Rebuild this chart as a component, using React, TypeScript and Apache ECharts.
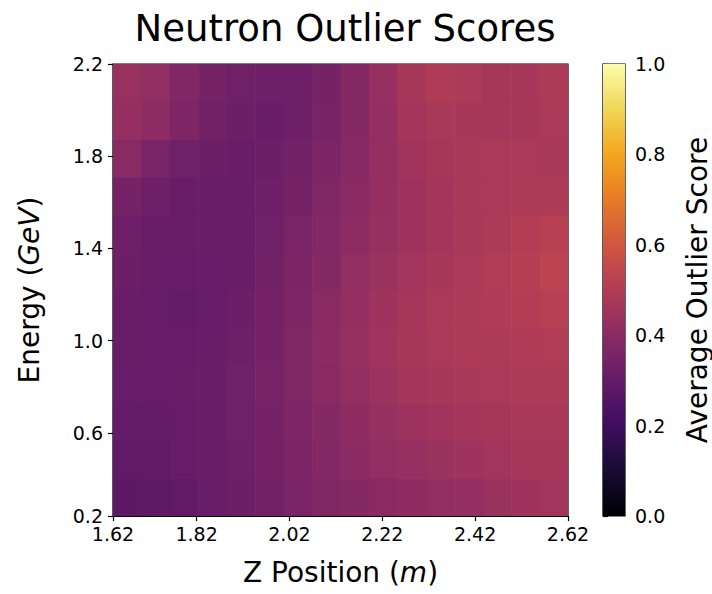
import React, { useEffect, useRef } from "react";
import * as echarts from "echarts";

// Axis ticks (grid index positions 0..49) and their labels
const xTickIdx = [0, 9, 19, 29, 39, 49];
const xTickLabels = ["1.62", "1.82", "2.02", "2.22", "2.42", "2.62"];
const yTickIdx = [0, 9, 19, 29, 39, 49];
const yTickLabels = ["0.2", "0.6", "1.0", "1.4", "1.8", "2.2"];
const cbarTicks = [0, 0.2, 0.4, 0.6, 0.8, 1.0];

// Average outlier score, rows from bottom (low energy) to top, columns left to right
const scoreRows: number[][] = [
  [0.28, 0.285, 0.295, 0.31, 0.32, 0.335, 0.355, 0.37, 0.385, 0.395, 0.41, 0.415, 0.425, 0.44, 0.45, 0.46],
  [0.29, 0.295, 0.305, 0.315, 0.325, 0.34, 0.36, 0.38, 0.40, 0.415, 0.43, 0.44, 0.45, 0.46, 0.47, 0.475],
  [0.30, 0.30, 0.305, 0.315, 0.33, 0.345, 0.365, 0.385, 0.41, 0.43, 0.445, 0.455, 0.465, 0.47, 0.48, 0.48],
  [0.305, 0.305, 0.31, 0.315, 0.33, 0.35, 0.37, 0.395, 0.42, 0.445, 0.465, 0.475, 0.48, 0.485, 0.49, 0.49],
  [0.31, 0.305, 0.305, 0.31, 0.325, 0.345, 0.37, 0.40, 0.43, 0.455, 0.475, 0.485, 0.49, 0.49, 0.495, 0.50],
  [0.315, 0.305, 0.30, 0.305, 0.32, 0.34, 0.365, 0.395, 0.425, 0.45, 0.47, 0.485, 0.49, 0.495, 0.505, 0.52],
  [0.32, 0.31, 0.305, 0.305, 0.315, 0.335, 0.36, 0.385, 0.415, 0.44, 0.46, 0.475, 0.485, 0.50, 0.515, 0.53],
  [0.325, 0.315, 0.31, 0.31, 0.315, 0.33, 0.355, 0.38, 0.405, 0.43, 0.45, 0.465, 0.48, 0.49, 0.505, 0.52],
  [0.345, 0.325, 0.315, 0.315, 0.315, 0.325, 0.345, 0.37, 0.395, 0.425, 0.45, 0.465, 0.48, 0.485, 0.49, 0.49],
  [0.395, 0.355, 0.33, 0.32, 0.315, 0.32, 0.335, 0.36, 0.39, 0.425, 0.455, 0.47, 0.48, 0.485, 0.485, 0.48],
  [0.425, 0.405, 0.365, 0.335, 0.32, 0.315, 0.325, 0.35, 0.385, 0.425, 0.465, 0.48, 0.475, 0.47, 0.475, 0.485],
  [0.435, 0.415, 0.375, 0.345, 0.33, 0.325, 0.325, 0.345, 0.385, 0.43, 0.475, 0.495, 0.485, 0.47, 0.475, 0.49],
];

// Inferno colormap stops
const infernoStops = [
  "#000004", "#160b39", "#420a68", "#6a176e", "#932667", "#bc3754",
  "#dd513a", "#f37819", "#fca50a", "#f6d746", "#fcffa4",
];

const FONT = "DejaVu Sans";
const AXIS_MAX = 49;

// slight desaturation to match the reference rendering
function soften(hex: string, k: number): string {
  const r = parseInt(hex.slice(1, 3), 16);
  const g = parseInt(hex.slice(3, 5), 16);
  const b = parseInt(hex.slice(5, 7), 16);
  const l = 0.3 * r + 0.59 * g + 0.11 * b;
  const f = (v: number) => Math.round(v + (l - v) * k);
  return `rgb(${f(r)},${f(g)},${f(b)})`;
}

export default function App() {
  const ref = useRef<HTMLDivElement>(null);

  useEffect(() => {
    document.body.style.margin = "0";
    if (!ref.current) return;
    const chart = echarts.init(ref.current, undefined, { renderer: "svg" });

    const ny = scoreRows.length;
    const nx = scoreRows[0].length;
    const data: number[][] = [];
    for (let r = 0; r < ny; r++) {
      for (let c = 0; c < nx; c++) data.push([c, r, scoreRows[r][c]]);
    }
    const cellW = AXIS_MAX / nx;
    const cellH = AXIS_MAX / ny;

    const palette = infernoStops.map((c) => soften(c, 0.12));
    const gradStops = palette.map((color, i) => ({
      offset: i / (palette.length - 1),
      color,
    }));

    const axisCommon = {
      type: "value" as const,
      min: 0,
      max: AXIS_MAX,
      splitLine: { show: false },
      axisLine: { show: true, lineStyle: { color: "#000", width: 1.2 } },
    };

    chart.setOption({
      animation: false,
      backgroundColor: "#fff",
      title: {
        text: "Neutron Outlier Scores",
        left: 340,
        textAlign: "center",
        top: 5,
        textStyle: { fontFamily: FONT, fontSize: 37, fontWeight: "normal", color: "#000" },
      },
      visualMap: {
        show: false,
        type: "continuous",
        min: 0,
        max: 1,
        dimension: 2,
        seriesIndex: 0,
        inRange: { color: palette },
      },
      grid: [
        { left: 113, top: 64, width: 455, height: 452, show: true, borderColor: "#000", borderWidth: 1.2, backgroundColor: "transparent" },
        { left: 603, top: 64, width: 24, height: 452, show: true, borderColor: "#000", borderWidth: 1.2, backgroundColor: "transparent" },
      ],
      xAxis: [
        {
          ...axisCommon,
          gridIndex: 0,
          name: "Z Position ({i|m})",
          nameLocation: "middle",
          nameGap: 42,
          nameTextStyle: {
            fontFamily: FONT,
            fontSize: 28,
            color: "#000",
            rich: { i: { fontFamily: FONT, fontSize: 28, fontStyle: "italic", color: "#000" } },
          },
          axisTick: { show: true, customValues: xTickIdx, length: 5, lineStyle: { color: "#000", width: 1.2 } },
          axisLabel: {
            customValues: xTickIdx,
            formatter: (v: number) => xTickLabels[xTickIdx.indexOf(Math.round(v))] ?? "",
            fontFamily: FONT,
            fontSize: 19,
            color: "#000",
            margin: 8,
          },
        },
        {
          type: "value",
          gridIndex: 1,
          min: 0,
          max: 1,
          show: false,
        },
      ],
      yAxis: [
        {
          ...axisCommon,
          gridIndex: 0,
          name: "Energy ({i|GeV})",
          nameLocation: "middle",
          nameRotate: 90,
          nameGap: 70,
          nameTextStyle: {
            fontFamily: FONT,
            fontSize: 28,
            color: "#000",
            rich: { i: { fontFamily: FONT, fontSize: 28, fontStyle: "italic", color: "#000" } },
          },
          axisTick: { show: true, customValues: yTickIdx, length: 5, lineStyle: { color: "#000", width: 1.2 } },
          axisLabel: {
            customValues: yTickIdx,
            formatter: (v: number) => yTickLabels[yTickIdx.indexOf(Math.round(v))] ?? "",
            fontFamily: FONT,
            fontSize: 19,
            color: "#000",
            margin: 10,
          },
        },
        {
          type: "value",
          gridIndex: 1,
          position: "right",
          min: 0,
          max: 1,
          splitLine: { show: false },
          axisLine: { show: true, lineStyle: { color: "#000", width: 1.2 } },
          axisTick: { show: true, customValues: cbarTicks, length: 5, lineStyle: { color: "#000", width: 1.2 } },
          axisLabel: {
            customValues: cbarTicks,
            formatter: (v: number) => v.toFixed(1),
            fontFamily: FONT,
            fontSize: 19,
            color: "#000",
            margin: 10,
          },
          name: "Average Outlier Score",
          nameLocation: "middle",
          nameRotate: 90,
          nameGap: 58,
          nameTextStyle: { fontFamily: FONT, fontSize: 28, color: "#000" },
        },
      ],
      series: [
        {
          type: "custom",
          xAxisIndex: 0,
          yAxisIndex: 0,
          clip: true,
          data,
          encode: { x: 0, y: 1 },
          renderItem: (params: any, api: any) => {
            const c = api.value(0);
            const r = api.value(1);
            const p0 = api.coord([c * cellW, (r + 1) * cellH]);
            const p1 = api.coord([(c + 1) * cellW, r * cellH]);
            return {
              type: "rect",
              shape: { x: p0[0], y: p0[1], width: p1[0] - p0[0] + 0.6, height: p1[1] - p0[1] + 0.6 },
              style: { fill: api.visual("color") },
            };
          },
          z: 1,
        },
        {
          type: "custom",
          xAxisIndex: 1,
          yAxisIndex: 1,
          data: [[0, 0]],
          renderItem: (params: any, api: any) => {
            const p0 = api.coord([0, 1]);
            const p1 = api.coord([1, 0]);
            return {
              type: "rect",
              shape: { x: p0[0], y: p0[1], width: p1[0] - p0[0], height: p1[1] - p0[1] },
              style: { fill: new echarts.graphic.LinearGradient(0, 1, 0, 0, gradStops) },
            };
          },
          z: 1,
        },
      ],
    });

    return () => chart.dispose();
  }, []);

  return <div ref={ref} style={{ width: 712, height: 594 }} />;
}
